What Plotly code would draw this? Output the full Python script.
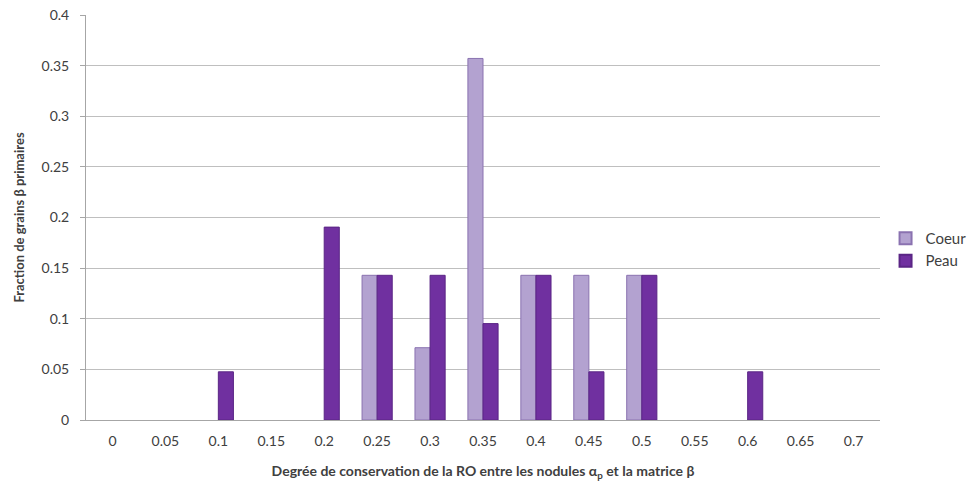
import plotly.graph_objects as go

categories = ["0", "0.05", "0.1", "0.15", "0.2", "0.25", "0.3", "0.35", "0.4", "0.45", "0.5", "0.55", "0.6", "0.65", "0.7"]
coeur = [0, 0, 0, 0, 0, 0.1429, 0.0714, 0.3571, 0.1429, 0.1429, 0.1429, 0, 0, 0, 0]
peau = [0, 0, 0.0476, 0, 0.1905, 0.1429, 0.1429, 0.0952, 0.1429, 0.0476, 0.1429, 0, 0.0476, 0, 0]
y_ticks = [0, 0.05, 0.1, 0.15, 0.2, 0.25, 0.3, 0.35, 0.4]


def nz(vals):
    return [v if v != 0 else None for v in vals]


fig = go.Figure()
fig.add_trace(go.Bar(x=categories, y=nz(coeur), name="Coeur",
                     marker=dict(color="#b3a2d0", line=dict(color="#8a72b0", width=1))))
fig.add_trace(go.Bar(x=categories, y=nz(peau), name="Peau",
                     marker=dict(color="#7030a0", line=dict(color="#5a2585", width=1))))

font = "Lato, 'Open Sans', sans-serif"
fig.update_layout(
    width=971, height=489,
    margin=dict(l=86, r=91, t=15, b=69, autoexpand=False),
    plot_bgcolor="white", paper_bgcolor="white",
    barmode="group", bargap=0.43, bargroupgap=0,
    font=dict(family=font, size=14, color="#404040"),
    legend=dict(xref="container", yref="container", x=0.912, y=0.49,
                yanchor="middle", xanchor="left", itemwidth=30,
                font=dict(size=15, color="#404040"), itemsizing="constant"),
    xaxis=dict(
        type="category", showline=True, linecolor="#a6a6a6", linewidth=1,
        ticks="", tickfont=dict(size=14, color="#404040"), automargin=False,
        ticklabelstandoff=8,
        title=dict(text="<b>Degrée de conservation de la RO entre les nodules α<sub>p</sub> et la matrice β</b>",
                   font=dict(size=14, color="#404040"), standoff=18),
        showgrid=False,
    ),
    yaxis=dict(
        range=[0, 0.4], tickvals=y_ticks, ticktext=[f"{v:g}" for v in y_ticks],
        showline=True, linecolor="#a6a6a6", linewidth=1,
        ticks="outside", ticklen=5, tickcolor="#a6a6a6",
        gridcolor="#bfbfbf", gridwidth=1, automargin=False,
        ticklabelstandoff=8,
        tickfont=dict(size=14, color="#404040"),
        title=dict(text="<b>Fraction de grains β primaires</b>",
                   font=dict(size=13, color="#404040"), standoff=13),
        zeroline=False,
    ),
)
fig.write_html("out.html", config={"displayModeBar": False},
               post_script="document.body.style.margin='0';")
